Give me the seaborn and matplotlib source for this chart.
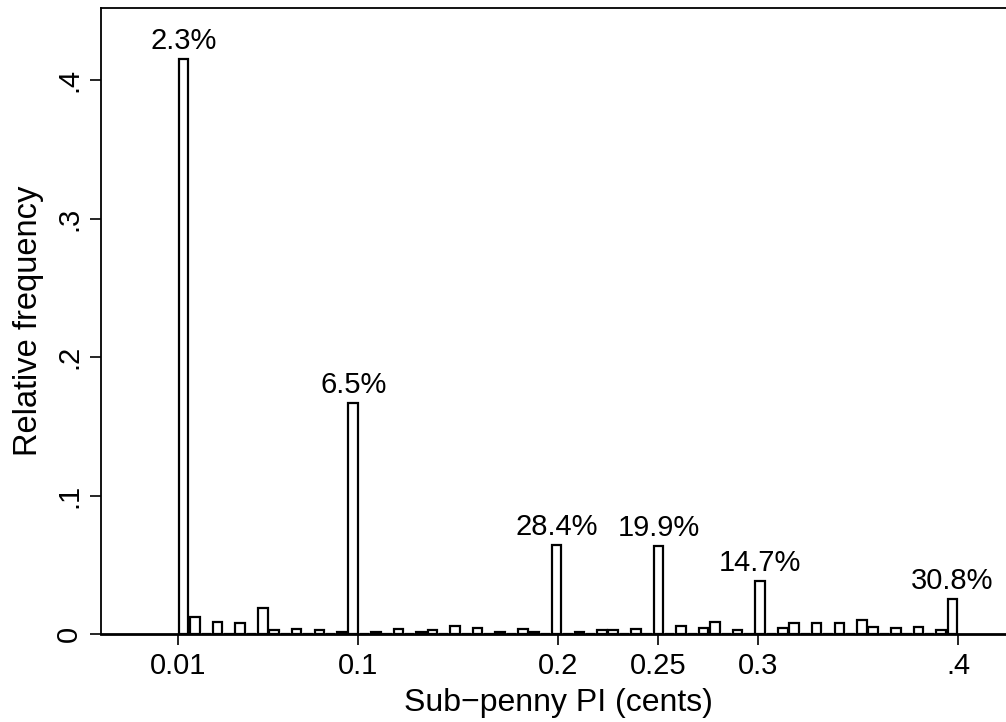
import numpy as np
import pandas as pd
import matplotlib
matplotlib.use("Agg")
import matplotlib.pyplot as plt
import seaborn as sns

# ---- data ----
bin_start = 0.01
bin_end = 0.40
n_bins = 69
bin_index = [0, 1, 3, 5, 7, 8, 10, 12, 14, 15, 17, 19, 21, 22, 24, 26, 28, 30, 31,
             33, 35, 37, 38, 40, 42, 44, 46, 47, 49, 51, 53, 54, 56, 58, 60, 61,
             63, 65, 67, 68]
rel_freq = [0.415, 0.0122, 0.0086, 0.0078, 0.0188, 0.0032, 0.0035, 0.0031, 0.0016,
            0.1665, 0.0017, 0.0035, 0.0016, 0.0028, 0.0058, 0.0040, 0.0016, 0.0034,
            0.0017, 0.0643, 0.0017, 0.0031, 0.0027, 0.0036, 0.0635, 0.0058, 0.0046,
            0.0088, 0.0030, 0.0380, 0.0045, 0.0083, 0.0076, 0.0077, 0.0100, 0.0047,
            0.0041, 0.0047, 0.0030, 0.0253]
label_x = [0.01, 0.1, 0.2, 0.25, 0.3, 0.4]
label_text = ["2.3%", "6.5%", "28.4%", "19.9%", "14.7%", "30.8%"]
xtick_vals = [0.01, 0.1, 0.2, 0.25, 0.3, 0.4]
xtick_labels = ["0.01", "0.1", "0.2", "0.25", "0.3", ".4"]
ytick_vals = [0, 0.1, 0.2, 0.3, 0.4]
ytick_labels = ["0", ".1", ".2", ".3", ".4"]

sns.set_style("white")
plt.rcParams["font.family"] = ["Liberation Sans", "DejaVu Sans"]
plt.rcParams["text.color"] = "black"
plt.rcParams["axes.labelcolor"] = "black"
plt.rcParams["xtick.color"] = "black"
plt.rcParams["ytick.color"] = "black"

edges = np.linspace(bin_start, bin_end, n_bins + 1)
width = edges[1] - edges[0]
centers = edges[np.array(bin_index)] + width / 2
df = pd.DataFrame({"pi": centers, "freq": rel_freq})

fig = plt.figure(figsize=(10.06, 7.22), dpi=100)
ax = fig.add_axes([101 / 1006, 1 - 634 / 722, 1 - 101 / 1006, (634 - 8) / 722])

sns.histplot(data=df, x="pi", weights="freq", bins=[float(e) for e in edges],
             shrink=0.84, color="white", edgecolor="black", linewidth=1.6,
             alpha=1, ax=ax)

ax.set_xlim(-0.0285, 0.424)
ax.set_ylim(0, 0.452)

# annotations above the labelled bars
freq = np.zeros(n_bins)
freq[np.array(bin_index)] = rel_freq
for xv, txt in zip(label_x, label_text):
    k = min(int(np.floor((xv - bin_start) / width - 1e-9)), n_bins - 1)
    k = max(k, 0)
    cx = edges[k] + width / 2
    ax.annotate(txt, (cx, freq[k]), xytext=(0, 3), textcoords="offset points",
                ha="center", va="bottom", fontsize=21)

ax.set_xticks(xtick_vals)
ax.set_xticklabels(xtick_labels)
ax.set_yticks(ytick_vals)
ax.set_yticklabels(ytick_labels, rotation=90, va="center")
ax.tick_params(axis="both", which="major", length=8, width=1.2, labelsize=21,
               direction="out", bottom=True, left=True, pad=5)

ax.set_xlabel("Sub\u2212penny PI (cents)", fontsize=23, labelpad=5.5)
ax.xaxis.label.set_x(0.506)
ax.set_ylabel("Relative frequency", fontsize=23.5, labelpad=8)

for s in ["left", "bottom", "top"]:
    ax.spines[s].set_visible(True)
    ax.spines[s].set_color("black")
    ax.spines[s].set_linewidth(1.3)
ax.spines["bottom"].set_linewidth(2.0)
ax.spines["right"].set_visible(False)

fig.savefig("out.png", dpi=100)
